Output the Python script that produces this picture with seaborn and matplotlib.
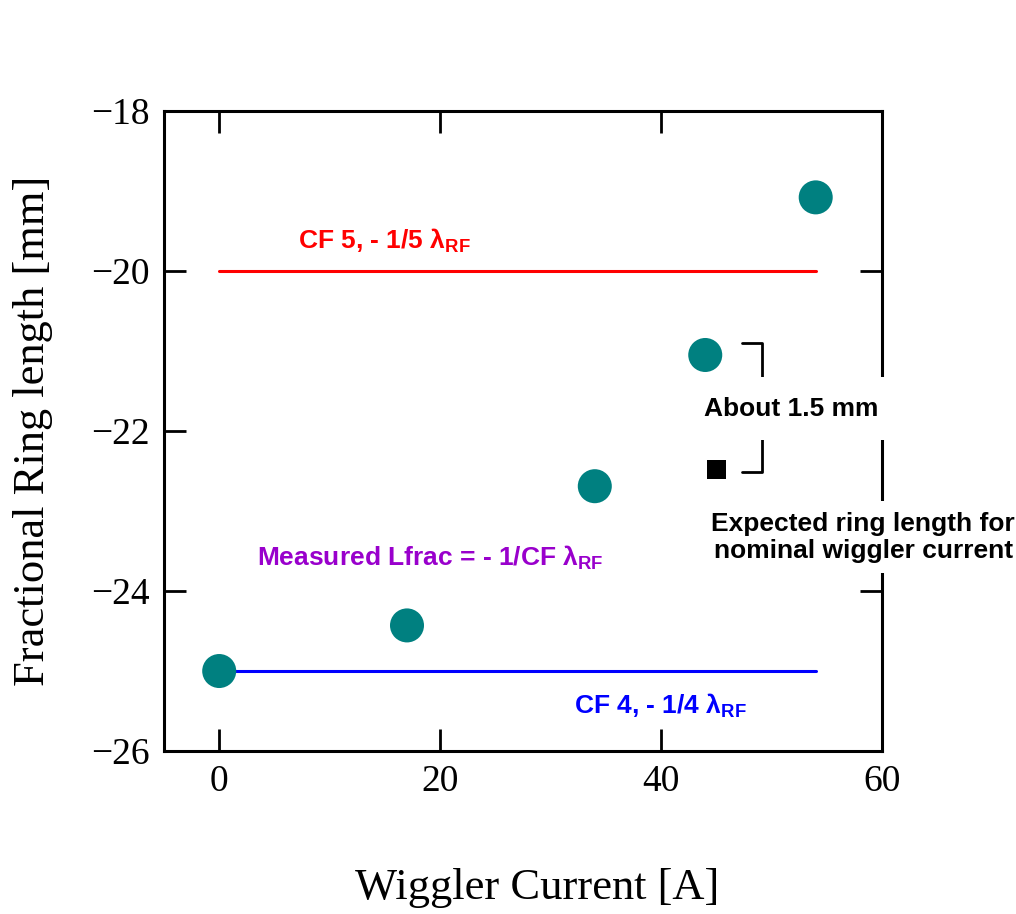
import numpy as np
import pandas as pd
import matplotlib
matplotlib.use("Agg")
import matplotlib.pyplot as plt
import seaborn as sns

# data
current = [0, 17, 34, 44, 54]
ring_len = [-25.0, -24.43, -22.69, -21.05, -19.08]
line_x = [0, 54]
cf5_y = [-20.0, -20.0]
cf4_y = [-25.0, -25.0]
expected_x = [45]
expected_y = [-22.48]
x_ticks = [0, 20, 40, 60]
y_ticks = [-26, -24, -22, -20, -18]

sns.set_style("ticks")
plt.rcParams["font.family"] = ["Liberation Serif", "DejaVu Serif"]
plt.rcParams["mathtext.fontset"] = "custom"
plt.rcParams["mathtext.rm"] = "Liberation Sans"
plt.rcParams["mathtext.bf"] = "Liberation Sans:bold"
plt.rcParams["text.color"] = "black"
plt.rcParams["axes.labelcolor"] = "black"
plt.rcParams["xtick.color"] = "black"
plt.rcParams["ytick.color"] = "black"
plt.rcParams["axes.edgecolor"] = "black"

fig = plt.figure(figsize=(10.16, 9.14), dpi=100)
ax = fig.add_axes([0.1614, 0.1783, 0.8681 - 0.1614, 0.8786 - 0.1783])

df = pd.DataFrame({"current": current, "ring": ring_len})
lines = pd.DataFrame({"x": line_x, "cf5": cf5_y, "cf4": cf4_y})

sns.lineplot(data=lines, x="x", y="cf5", color="#ff0000", lw=2.2, ax=ax, zorder=2)
sns.lineplot(data=lines, x="x", y="cf4", color="#0000ff", lw=2.2, ax=ax, zorder=2)
sns.scatterplot(data=df, x="current", y="ring", color="#008080", s=600,
                edgecolor="none", ax=ax, zorder=4)
sns.scatterplot(x=expected_x, y=expected_y, marker="s", color="black", s=190,
                edgecolor="none", ax=ax, zorder=4)

ax.set_xlim(-5, 60)
ax.set_ylim(-26, -18)
ax.set_xticks(x_ticks)
ax.set_yticks(y_ticks)
ax.tick_params(direction="in", length=16, width=2, labelsize=27,
               top=True, right=True, pad=10, colors="black")
for s in ax.spines.values():
    s.set_linewidth(2.2)
    s.set_color("black")
    s.set_visible(True)

ax.set_xlabel("Wiggler Current [A]", fontsize=32, va="center")
ax.set_ylabel("Fractional Ring length [mm]", fontsize=32, va="center")
ax.xaxis.set_label_coords(0.52, -0.214)
ax.yaxis.set_label_coords(-0.182, 0.5)

sans = ["Liberation Sans", "DejaVu Sans"]
ax.text(7.1, -19.62, r"CF 5, - 1/5 λ$_{\mathbf{RF}}$", color="#ff0000",
        fontsize=19, fontweight="bold", family=sans, va="center")
ax.text(3.45, -23.58, r"Measured Lfrac = - 1/CF λ$_{\mathbf{RF}}$", color="#9900cc",
        fontsize=19, fontweight="bold", family=sans, va="center")
ax.text(32.1, -25.43, r"CF 4, - 1/4 λ$_{\mathbf{RF}}$", color="#0000ff",
        fontsize=19, fontweight="bold", family=sans, va="center")

# bracket
ax.plot([47.3, 49.1, 49.1], [-20.9, -20.9, -21.4], color="black", lw=2, zorder=3)
ax.plot([49.1, 49.1, 47.3], [-22.1, -22.51, -22.51], color="black", lw=2, zorder=3)

ax.text(51.8, -21.72, "About 1.5 mm", fontsize=19, fontweight="bold", family=sans,
        ha="center", va="center", zorder=5, color="black",
        bbox=dict(boxstyle="square,pad=0.75", fc="white", ec="none"))
ax.text(58.3, -23.33, "Expected ring length for\nnominal wiggler current",
        fontsize=19, fontweight="bold", family=sans, ha="center", va="center",
        linespacing=1.15, zorder=5, color="black",
        bbox=dict(boxstyle="square,pad=0.4", fc="white", ec="none"))

fig.savefig("out.png", dpi=100)
